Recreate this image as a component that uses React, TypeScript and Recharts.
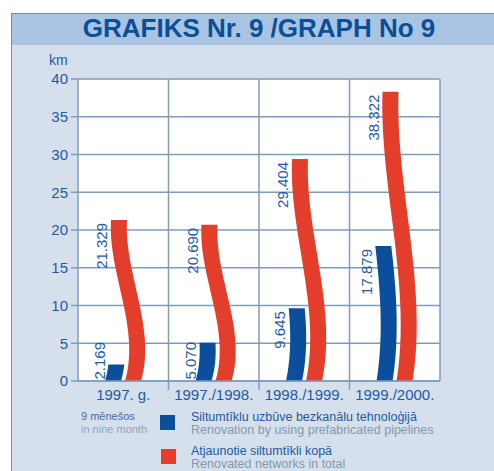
import React from "react";
import { BarChart, Bar, XAxis, YAxis, CartesianGrid } from "recharts";

const categories = ["1997. g.", "1997./1998.", "1998./1999.", "1999./2000."];
const prefabricated = [2.169, 5.07, 9.645, 17.879];
const renovatedTotal = [21.329, 20.69, 29.404, 38.322];
const yTicks = [0, 5, 10, 15, 20, 25, 30, 35, 40];

const data = categories.map((name, i) => ({
  name,
  prefab: prefabricated[i],
  total: renovatedTotal[i],
}));

const FONT = '"Liberation Sans", Arial, Helvetica, sans-serif';
const BLUE = "#0b4f9c";
const RED = "#e33e2b";
const TEXT_BLUE = "#1c5aa6";
const GRID = "#7f9cb8";
const PLOT_LEFT = 78;
const PLOT_RIGHT = 440;
const PLOT_BOTTOM = 381;
const BAND = (PLOT_RIGHT - PLOT_LEFT) / categories.length;

// sideways drift of the bars (px), as a share of the red bar's height
const drift = (t: number) => {
  const c = Math.min(Math.max(t, 0), 1);
  return 46.4 * c - 144.08 * c * c + 83.68 * c * c * c;
};

const curvedBar = (key: "prefab" | "total") => (props: any) => {
  const { x, y, width, height, payload } = props;
  if (!height || height <= 0) return <g />;
  const value = payload[key];
  const px = height / value;
  const redH = payload.total * px;
  const bottom = y + height;
  const N = 40;
  const pts: [number, number][] = [];
  for (let i = 0; i <= N; i++) {
    const h = (height * i) / N;
    pts.push([x + drift(h / redH), bottom - h]);
  }
  const d =
    "M" +
    pts.map((p) => `${p[0]},${p[1]}`).join(" L") +
    " L" +
    [...pts].reverse().map((p) => `${p[0] + width},${p[1]}`).join(" L") +
    " Z";
  const lx = x + drift(height / redH) - 9;
  const ly = Math.min(y + 3, bottom - 39);
  return (
    <g>
      <path d={d} fill={key === "prefab" ? BLUE : RED} />
      <text
        x={lx}
        y={ly}
        transform={`rotate(-90 ${lx} ${ly})`}
        textAnchor="end"
        dominantBaseline="central"
        fill={TEXT_BLUE}
        fontSize={15}
        fontFamily={FONT}
      >
        {value.toFixed(3)}
      </text>
    </g>
  );
};

const CategoryTick = (props: any) => {
  const { x, payload, index } = props;
  return (
    <g>
      {index > 0 && (
        <line
          x1={x - BAND / 2}
          x2={x - BAND / 2}
          y1={PLOT_BOTTOM}
          y2={PLOT_BOTTOM + 9}
          stroke={GRID}
          strokeWidth={1.5}
        />
      )}
      <text
        x={x}
        y={PLOT_BOTTOM + 19}
        textAnchor="middle"
        fill={TEXT_BLUE}
        fontSize={15}
        fontFamily={FONT}
      >
        {payload.value}
      </text>
    </g>
  );
};

const abs = (left: number, top: number, extra: React.CSSProperties = {}): React.CSSProperties => ({
  position: "absolute",
  left,
  top,
  ...extra,
});

export default function App() {
  return (
    <div style={{ position: "absolute", left: 0, top: 0, width: 494, height: 471, overflow: "hidden", background: "#fff", fontFamily: FONT }}>
      <div style={abs(11, 13, { width: 500, height: 470, background: "#d6e0ec", border: "1px solid #7391ab" })}>
        <div style={{ height: 31, background: "#a8c4e2" }} />
      </div>
      <div style={abs(0, 13, { width: 518, height: 31, lineHeight: "31px", textAlign: "center", color: "#0b4f98", fontWeight: "bold", fontSize: 26 })}>
        GRAFIKS Nr. 9 /GRAPH No 9
      </div>
      <div style={abs(49, 51, { fontSize: 14, color: TEXT_BLUE, lineHeight: "18px" })}>km</div>

      <div style={abs(0, 0)}>
        <BarChart
          width={494}
          height={471}
          data={data}
          margin={{ top: 79, right: 54, bottom: 60, left: 18 }}
          barSize={16}
          barGap={4}
        >
          <CartesianGrid
            fill="#ffffff"
            fillOpacity={1}
            stroke={GRID}
            strokeWidth={1.5}
            verticalCoordinatesGenerator={({ offset }: any) =>
              categories.map((_, i) => offset.left + ((i + 1) * offset.width) / categories.length)
            }
          />
          <XAxis
            dataKey="name"
            height={30}
            interval={0}
            tickLine={false}
            axisLine={{ stroke: GRID, strokeWidth: 1.5 }}
            tick={<CategoryTick />}
          />
          <YAxis
            width={60}
            domain={[0, 40]}
            ticks={yTicks}
            interval={0}
            tickSize={7}
            tickMargin={3}
            axisLine={{ stroke: GRID, strokeWidth: 1.5 }}
            tickLine={{ stroke: GRID, strokeWidth: 1.5 }}
            tick={{ fill: TEXT_BLUE, fontSize: 15, fontFamily: FONT }}
          />
          <Bar dataKey="prefab" fill={BLUE} shape={curvedBar("prefab")} isAnimationActive={false} />
          <Bar dataKey="total" fill={RED} shape={curvedBar("total")} isAnimationActive={false} />
        </BarChart>
      </div>

      <div style={abs(81, 410, { fontSize: 11, lineHeight: "13px" })}>
        <div style={{ color: "#3a6db0" }}>9 mēnešos</div>
        <div style={{ color: "#8ea3b8" }}>in nine month</div>
      </div>
      <div style={abs(160, 415, { width: 15, height: 15, background: BLUE })} />
      <div style={abs(191, 411, { fontSize: 12.5, lineHeight: "12.5px" })}>
        <div style={{ color: TEXT_BLUE }}>Siltumtīklu uzbūve bezkanālu tehnoloģijā</div>
        <div style={{ color: "#8298ac" }}>Renovation by using prefabricated pipelines</div>
      </div>
      <div style={abs(161, 449, { width: 15, height: 15, background: RED })} />
      <div style={abs(191, 445, { fontSize: 12.5, lineHeight: "12.5px" })}>
        <div style={{ color: TEXT_BLUE }}>Atjaunotie siltumtīkli kopā</div>
        <div style={{ color: "#8298ac" }}>Renovated networks in total</div>
      </div>
    </div>
  );
}
